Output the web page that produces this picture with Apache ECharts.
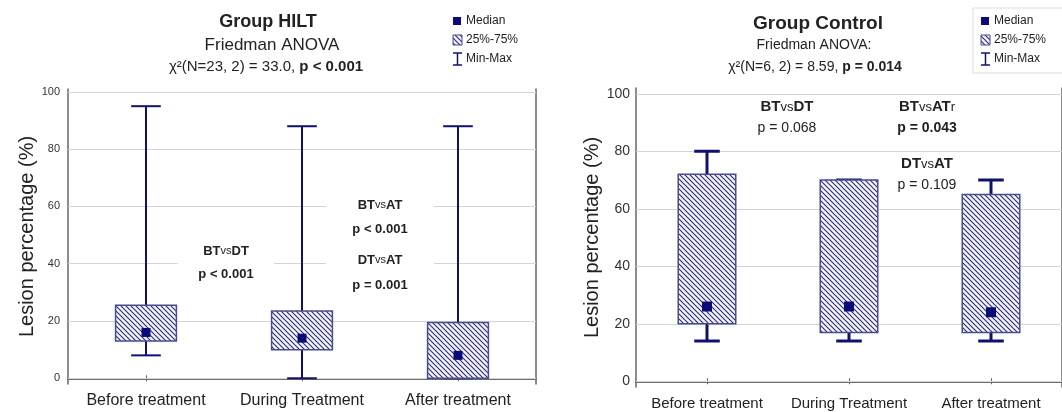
<!DOCTYPE html>
<html><head><meta charset="utf-8">
<script src="https://cdn.jsdelivr.net/npm/echarts@6/dist/echarts.min.js"></script>
<style>html,body{margin:0;padding:0;background:#fff}#c{width:1062px;height:412px}</style>
</head><body><div id="c"></div>
<script>
// ---- data ----
const categories = ['Before treatment', 'During Treatment', 'After treatment'];
const yTicks = [0, 20, 40, 60, 80, 100];
// Group HILT
const hiltMin = [8, 0, 0];
const hiltQ1 = [13, 10, 0];
const hiltMedian = [16, 14, 8];
const hiltQ3 = [25.5, 23.5, 19.5];
const hiltMax = [95, 88, 88];
// Group Control
const ctrlMin = [14, 14, 14];
const ctrlQ1 = [20, 17, 17];
const ctrlMedian = [26, 26, 24];
const ctrlQ3 = [72, 70, 65];
const ctrlMax = [80, 70, 70];

const FONT = '"Liberation Sans", Arial, sans-serif';
const NAVY = '#10106e';

function makePattern() {
  const s = 5;
  const c = document.createElement('canvas');
  c.width = s; c.height = s;
  const g = c.getContext('2d');
  g.fillStyle = '#f4f4fb'; g.fillRect(0, 0, s, s);
  g.strokeStyle = '#2a2a7a'; g.lineWidth = 1.1;
  g.beginPath();
  g.moveTo(-1, -1); g.lineTo(s + 1, s + 1);
  g.moveTo(-1, s - 1); g.lineTo(1, s + 1);
  g.moveTo(s - 1, -1); g.lineTo(s + 1, 1);
  g.stroke();
  return c;
}
const pattern = makePattern();

function buildData(mn, q1, md, q3, mx) {
  return categories.map((_, i) => [i, mn[i], q1[i], md[i], q3[i], mx[i]]);
}

function boxRenderer(boxRatio, capRatio, lineW, medSize, boxLineW) {
  return function (params, api) {
    const i = api.value(0);
    const band = api.size([1, 0])[0];
    const cx = api.coord([i, 0])[0];
    const yMin = api.coord([i, api.value(1)])[1];
    const yQ1 = api.coord([i, api.value(2)])[1];
    const yMed = api.coord([i, api.value(3)])[1];
    const yQ3 = api.coord([i, api.value(4)])[1];
    const yMax = api.coord([i, api.value(5)])[1];
    const bw = band * boxRatio, cw = band * capRatio;
    const ls = { stroke: NAVY, lineWidth: lineW };
    return {
      type: 'group',
      children: [
        { type: 'line', shape: { x1: cx, y1: yQ3, x2: cx, y2: yMax }, style: ls },
        { type: 'line', shape: { x1: cx, y1: yQ1, x2: cx, y2: yMin }, style: ls },
        { type: 'line', shape: { x1: cx - cw / 2, y1: yMax, x2: cx + cw / 2, y2: yMax }, style: ls },
        { type: 'line', shape: { x1: cx - cw / 2, y1: yMin, x2: cx + cw / 2, y2: yMin }, style: ls },
        { type: 'rect', shape: { x: cx - bw / 2, y: yQ3, width: bw, height: yQ1 - yQ3 },
          style: { fill: { image: pattern, repeat: 'repeat' }, stroke: '#4a4a90', lineWidth: boxLineW } },
        { type: 'rect', shape: { x: cx - medSize / 2, y: yMed - medSize / 2, width: medSize, height: medSize },
          style: { fill: '#0a0a78' } }
      ]
    };
  };
}

function gridSeries(xi, yi) {
  return { type: 'line', xAxisIndex: xi, yAxisIndex: yi, data: [], z: 1, silent: true,
    markLine: { silent: true, z: 1, symbol: 'none', label: { show: false }, animation: false,
      lineStyle: { color: '#d4d4d4', type: 'solid', width: 1 },
      emphasis: { disabled: true },
      data: yTicks.map(v => ({ yAxis: v })) } };
}

function xAxes(gi, fs) {
  return [
    { type: 'category', gridIndex: gi, data: categories, position: 'bottom',
      axisLine: { show: true, lineStyle: { color: '#666', width: 1.5 } },
      axisTick: { show: true, inside: true, alignWithLabel: true, length: 3, lineStyle: { color: '#666' } },
      axisLabel: { fontSize: fs, color: '#222', fontFamily: FONT, margin: 9, interval: 0 } },
    { type: 'category', gridIndex: gi, data: categories, position: 'top',
      axisLine: { show: true, lineStyle: { color: '#666', width: 1.5 } },
      axisTick: { show: true, inside: true, alignWithLabel: true, length: 3, lineStyle: { color: '#666' } },
      axisLabel: { show: false } }
  ];
}
function yAxes(gi, min, max, fs, nameGap, margin) {
  return [
    { type: 'value', gridIndex: gi, min: min, max: max, position: 'left',
      name: 'Lesion percentage (%)', nameLocation: 'middle', nameGap: nameGap,
      nameTextStyle: { fontSize: 20, fontFamily: FONT, color: '#222' },
      axisLine: { show: true, lineStyle: { color: '#666', width: 1.5 } },
      axisTick: { show: true, inside: true, length: 3, customValues: yTicks, lineStyle: { color: '#666' } },
      axisLabel: { customValues: yTicks, fontSize: fs, color: '#333', fontFamily: FONT, margin: margin },
      splitLine: { show: false } },
    { type: 'value', gridIndex: gi, min: min, max: max, position: 'right',
      axisLine: { show: true, lineStyle: { color: '#666', width: 1.5 } },
      axisTick: { show: true, inside: true, length: 3, customValues: yTicks, lineStyle: { color: '#666' } },
      axisLabel: { show: false }, splitLine: { show: false } }
  ];
}

function annot(x, y, a, b, fs, vfs, tail) {
  return { type: 'text', x: x, y: y, z: 20,
    style: { text: '{b|' + a + '}{v|vs}{b|' + b + '}' + (tail ? '{v|' + tail + '}' : ''), align: 'center', verticalAlign: 'middle',
      rich: { b: { fontSize: fs, fontWeight: 'bold', fontFamily: FONT, fill: '#222' },
              v: { fontSize: vfs, fontFamily: FONT, fill: '#222' } } } };
}
function txt(x, y, t, fs, bold, color) {
  return { type: 'text', x: x, y: y, z: 20,
    style: { text: t, fontSize: fs, fontWeight: bold ? 'bold' : 'normal', fontFamily: FONT,
      fill: color || '#222', align: 'center', verticalAlign: 'middle' } };
}
function chiLine(x, y, a, b, fs) {
  return { type: 'text', x: x, y: y, z: 20,
    style: { text: '{n|' + a + '}{b|' + b + '}', align: 'center', verticalAlign: 'middle',
      rich: { n: { fontSize: fs, fontFamily: FONT, fill: '#222' },
              b: { fontSize: fs, fontWeight: 'bold', fontFamily: FONT, fill: '#222' } } } };
}
function blank(x, y, w, h) {
  return { type: 'rect', z: 5, shape: { x: x, y: y, width: w, height: h }, style: { fill: '#fff' } };
}
function legend(x, y, fs, step, boxed) {
  const items = [];
  if (boxed) items.push({ type: 'rect', z: 19, shape: { x: x - 8, y: y - 13, width: 100, height: step * 3 + 8 },
    style: { fill: '#fff', stroke: '#dcdcdc', lineWidth: 1 } });
  items.push({ type: 'rect', z: 20, shape: { x: x, y: y - 4, width: 8, height: 8 }, style: { fill: '#0a0a78' } });
  items.push({ type: 'rect', z: 20, shape: { x: x, y: y + step - 5, width: 9, height: 10 },
    style: { fill: { image: pattern, repeat: 'repeat' }, stroke: '#4a4a90', lineWidth: 1 } });
  const yy = y + 2 * step;
  items.push({ type: 'line', z: 20, shape: { x1: x + 4.5, y1: yy - 6, x2: x + 4.5, y2: yy + 6 }, style: { stroke: NAVY, lineWidth: 1.5 } });
  items.push({ type: 'line', z: 20, shape: { x1: x, y1: yy - 6, x2: x + 9, y2: yy - 6 }, style: { stroke: NAVY, lineWidth: 1.5 } });
  items.push({ type: 'line', z: 20, shape: { x1: x, y1: yy + 6, x2: x + 9, y2: yy + 6 }, style: { stroke: NAVY, lineWidth: 1.5 } });
  ['Median', '25%-75%', 'Min-Max'].forEach((t, k) => {
    items.push({ type: 'text', z: 20, x: x + 13, y: y + k * step,
      style: { text: t, fontSize: fs, fontFamily: FONT, fill: '#222', align: 'left', verticalAlign: 'middle' } });
  });
  return items;
}

const chart = echarts.init(document.getElementById('c'), null, { renderer: 'canvas' });
chart.setOption({
  animation: false,
  backgroundColor: '#fff',
  grid: [
    { left: 68, top: 89, width: 468, height: 295 },
    { left: 636, top: 88, width: 429, height: 299 }
  ],
  xAxis: [...xAxes(0, 16), ...xAxes(1, 15)],
  yAxis: [...yAxes(0, -2, 101, 11, 30, 8), ...yAxes(1, -2, 102, 14, 28, 6)],
  series: [
    gridSeries(0, 0),
    gridSeries(2, 2),
    { type: 'custom', xAxisIndex: 0, yAxisIndex: 0, renderItem: boxRenderer(0.39, 0.19, 2, 9, 1.5),
      data: buildData(hiltMin, hiltQ1, hiltMedian, hiltQ3, hiltMax), z: 10 },
    { type: 'custom', xAxisIndex: 2, yAxisIndex: 2, renderItem: boxRenderer(0.405, 0.18, 3, 10, 1.5),
      data: buildData(ctrlMin, ctrlQ1, ctrlMedian, ctrlQ3, ctrlMax), z: 10 }
  ],
  graphic: [
    blank(178, 240, 96, 46),
    blank(326, 194, 108, 102),
    txt(268, 22, 'Group HILT', 18, true),
    txt(272, 45, 'Friedman ANOVA', 17),
    chiLine(266, 67, 'χ²(N=23, 2) = 33.0, ', 'p < 0.001', 15),
    txt(818, 24, 'Group Control', 19, true),
    txt(814, 45, 'Friedman ANOVA:', 14),
    chiLine(815, 67, 'χ²(N=6, 2) = 8.59, ', 'p = 0.014', 14),
    ...legend(453, 21, 12, 19, false),
    ...legend(981, 21, 12, 19, true),
    annot(226, 251, 'BT', 'DT', 13, 11),
    txt(226, 274, 'p < 0.001', 13, true),
    annot(380, 205, 'BT', 'AT', 13, 11),
    txt(380, 229, 'p < 0.001', 13, true),
    annot(380, 260, 'DT', 'AT', 13, 11),
    txt(380, 285, 'p = 0.001', 13, true),
    annot(787, 107, 'BT', 'DT', 15, 13),
    txt(787, 128, 'p = 0.068', 14, false),
    annot(927, 107, 'BT', 'AT', 15, 13, 'r'),
    txt(927, 128, 'p = 0.043', 14, true),
    annot(927, 164, 'DT', 'AT', 15, 13),
    txt(927, 185, 'p = 0.109', 14, false)
  ]
});
</script></body></html>
